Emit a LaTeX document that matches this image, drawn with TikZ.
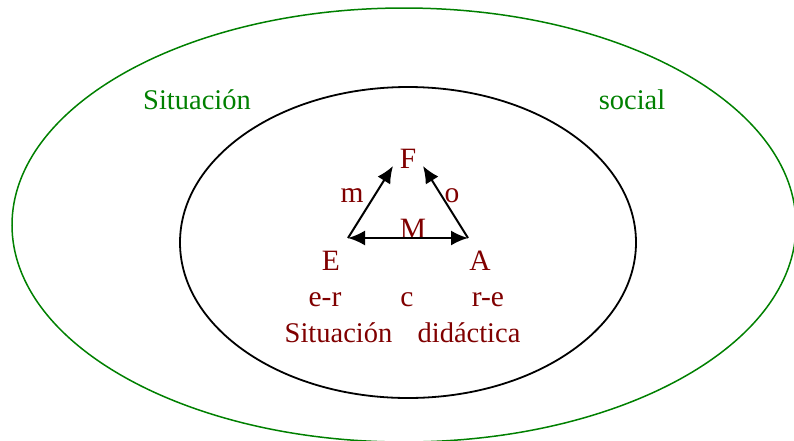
\documentclass[tikz,border=0pt]{standalone}
\usepackage{fontspec}
\setmainfont{Liberation Serif}
\usetikzlibrary{arrows.meta}

\begin{document}
\begin{tikzpicture}[x=1pt,y=-1pt]
  % Frames: social situation (green, outer), didactic situation (black, inner).
  \definecolor{social}{HTML}{008000}
  \definecolor{didac}{HTML}{800000}
  \useasboundingbox (0,0) rectangle (794,440);
  \draw[social,line width=1.5pt] (404,225) ellipse [x radius=392pt, y radius=217pt];
  \draw[black,line width=1.8pt] (408,242.5) ellipse [x radius=228pt, y radius=155.5pt];

  \tikzset{lbl/.style={text=didac, font=\fontsize{29.5}{32}\selectfont, anchor=base, inner sep=0pt},
    word/.style={lbl, font=\fontsize{28.5}{32}\selectfont},
    rel/.style={line width=2pt, -{Latex[length=17pt,width=15pt]}}}
  \node[word,text=social] (sitS) at (197,109) {Situación};
  \node[word,text=social] (soc) at (632,109) {social};

  % Triangle corners and its labels.
  \node[lbl] (F) at (408,168) {F};
  \node[lbl] (E) at (331,270) {E};
  \node[lbl] (A) at (480,270) {A};
  \node[lbl] (m) at (352,202) {m};
  \node[lbl] (o) at (452,202) {o};
  \node[lbl] (M) at (413,238) {M};
  \node[lbl] (er) at (325,306) {e-r};
  \node[lbl] (c) at (407,306) {c};
  \node[lbl] (re) at (488,306) {r-e};
  \node[word] (sitD) at (338.5,342) {Situación};
  \node[word] (dida) at (469,342) {didáctica};

  \coordinate (eCorner) at (348,238);
  \coordinate (aCorner) at (468,238);
  \coordinate (fLeft) at (393,166);
  \coordinate (fRight) at (423,166);
  \draw[rel] (eCorner) -- (fLeft);
  \draw[rel] (aCorner) -- (fRight);
  \draw[rel,{Latex[length=17pt,width=15pt]}-{Latex[length=17pt,width=15pt]}] (eCorner) -- (aCorner);
\end{tikzpicture}
\end{document}
